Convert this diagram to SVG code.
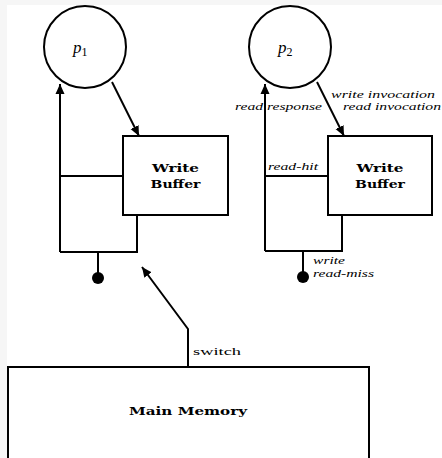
<svg xmlns="http://www.w3.org/2000/svg" width="442" height="458" viewBox="0 0 442 458">
<defs>
<marker id="ah" viewBox="0 0 10 10" refX="10" refY="5" markerWidth="10" markerHeight="10" markerUnits="userSpaceOnUse" orient="auto">
<path d="M0,0.5 L10,5 L0,9.5 z" fill="#000"/>
</marker>
<style>
.ln{fill:none;stroke:#000;stroke-width:2}
.box{fill:#fff;stroke:#000;stroke-width:2}
.bt{font-family:"DejaVu Serif","Liberation Serif",serif;font-weight:bold;font-size:11px;text-anchor:middle}
.it{font-family:"Liberation Serif","DejaVu Serif",serif;font-style:italic;font-size:11px}
.rm{font-family:"Liberation Serif","DejaVu Serif",serif;font-size:11px}
.pv{font-family:"Liberation Serif","DejaVu Serif",serif;font-style:italic;font-size:17px}
.sub{font-family:"Liberation Serif","DejaVu Serif",serif;font-style:normal;font-size:12px}
</style>
</defs>
<rect x="0" y="0" width="442" height="458" fill="#f6f6f6"/>
<rect x="7" y="5" width="435" height="453" fill="#fff"/>
<g id="connectors">
<path class="ln" d="M60,252 V84" marker-end="url(#ah)"/>
<path class="ln" d="M60,252 H137 V215"/>
<path class="ln" d="M60,176 H123"/>
<path class="ln" d="M98,252 V278"/>
<circle cx="98" cy="278" r="6" fill="#000"/>
<path class="ln" d="M112,82 L139,136" marker-end="url(#ah)"/>
<path class="ln" d="M265,251 V84" marker-end="url(#ah)"/>
<path class="ln" d="M265,251 H342 V215"/>
<path class="ln" d="M265,176 H328"/>
<path class="ln" d="M303,251 V277"/>
<circle cx="303" cy="277" r="6" fill="#000"/>
<path class="ln" d="M317,82 L344,136" marker-end="url(#ah)"/>
<path class="ln" d="M188,367 V329 L142,267" marker-end="url(#ah)"/>
<text class="it" x="331" y="98" textLength="104" lengthAdjust="spacingAndGlyphs">write invocation</text>
<text class="it" x="343" y="110" textLength="98" lengthAdjust="spacingAndGlyphs">read invocation</text>
<text class="it" x="235" y="110" textLength="87" lengthAdjust="spacingAndGlyphs">read response</text>
<text class="it" x="268" y="170" textLength="50" lengthAdjust="spacingAndGlyphs">read-hit</text>
<text class="it" x="313" y="264" textLength="32" lengthAdjust="spacingAndGlyphs">write</text>
<text class="it" x="313" y="277" textLength="61" lengthAdjust="spacingAndGlyphs">read-miss</text>
<text class="rm" x="193" y="355" textLength="48" lengthAdjust="spacingAndGlyphs">switch</text>
</g>
<g id="p1">
<circle cx="85" cy="47" r="41" class="box"/>
<text x="73" y="53" class="pv">p<tspan class="sub" dy="3">1</tspan></text>
</g>
<g id="p2">
<circle cx="290" cy="47" r="41" class="box"/>
<text x="278" y="53" class="pv">p<tspan class="sub" dy="3">2</tspan></text>
</g>
<g id="wb1">
<rect x="123" y="136" width="105" height="79" class="box"/>
<text class="bt" x="175.5" y="172" textLength="47" lengthAdjust="spacingAndGlyphs">Write</text>
<text class="bt" x="175.5" y="188" textLength="50" lengthAdjust="spacingAndGlyphs">Buffer</text>
</g>
<g id="wb2">
<rect x="328" y="136" width="104" height="79" class="box"/>
<text class="bt" x="380" y="172" textLength="47" lengthAdjust="spacingAndGlyphs">Write</text>
<text class="bt" x="380" y="188" textLength="50" lengthAdjust="spacingAndGlyphs">Buffer</text>
</g>
<g id="mem">
<rect x="8" y="367" width="361" height="92" class="box"/>
<text class="bt" x="188" y="415" textLength="118" lengthAdjust="spacingAndGlyphs">Main Memory</text>
</g>
</svg>
